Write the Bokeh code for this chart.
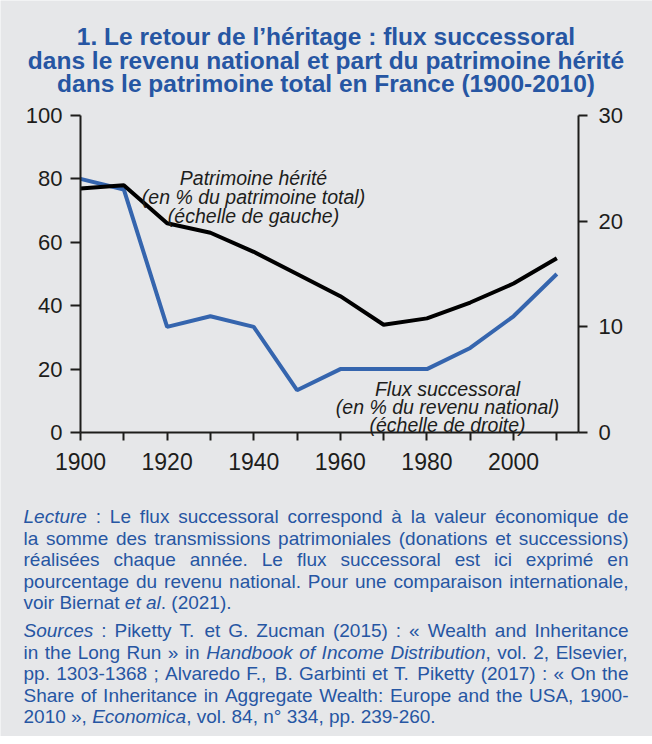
from bokeh.plotting import figure
from bokeh.models import Range1d, LinearAxis, FixedTicker, Label
from bokeh.embed import file_html
from bokeh.resources import INLINE

# ---------------- data ----------------
years = [1900, 1910, 1920, 1930, 1940, 1950, 1960, 1970, 1980, 1990, 2000, 2010]
patrimoine_herite = [77, 78, 66, 63, 57, 50, 43, 34, 36, 41, 47, 55]      # % du patrimoine total (gauche)
flux_successoral = [24, 23, 10, 11, 10, 4, 6, 6, 6, 8, 11, 15]            # % du revenu national (droite)

x_ticks = [1900, 1910, 1920, 1930, 1940, 1950, 1960, 1970, 1980, 1990, 2000, 2010]
x_tick_labels = ["1900", "", "1920", "", "1940", "", "1960", "", "1980", "", "2000", ""]
left_ticks = [0, 20, 40, 60, 80, 100]
right_ticks = [0, 10, 20, 30]

title_lines = [
    "1. Le retour de l\u2019h\u00e9ritage : flux successoral",
    "dans le revenu national et part du patrimoine h\u00e9rit\u00e9",
    "dans le patrimoine total en France (1900-2010)",
]
ann_black = ["Patrimoine h\u00e9rit\u00e9", "(en % du patrimoine total)", "(\u00e9chelle de gauche)"]
ann_blue = ["Flux successoral", "(en % du revenu national)", "(\u00e9chelle de droite)"]

lecture_lines = [
    "*Lecture* : Le flux successoral correspond \u00e0 la valeur \u00e9conomique de",
    "la somme des transmissions patrimoniales (donations et successions)",
    "r\u00e9alis\u00e9es chaque ann\u00e9e. Le flux successoral est ici exprim\u00e9 en",
    "pourcentage du revenu national. Pour une comparaison internationale,",
    "voir Biernat *et al*. (2021).",
]
sources_lines = [
    "*Sources* : Piketty T. et G. Zucman (2015) : \u00ab Wealth and Inheritance",
    "in the Long Run \u00bb in *Handbook of Income Distribution*, vol. 2, Elsevier,",
    "pp. 1303-1368 ; Alvaredo F., B. Garbinti et T. Piketty (2017) : \u00ab On the",
    "Share of Inheritance in Aggregate Wealth: Europe and the USA, 1900-",
    "2010 \u00bb, *Economica*, vol. 84, n\u00b0 334, pp. 239-260.",
]

# ---------------- styling / layout ----------------
BG = "#e6e7e9"
TXT_BLUE = "#2656a3"
LINE_BLUE = "#3565ae"
INK = "#1d1d1b"
FONT = "Liberation Sans"

W_FIG, H_FIG = 652, 736
# chart area in page pixels
FR_L, FR_R, FR_T, FR_B = 80, 578, 115, 432
X0, X1 = 1900, 2015          # x data span of the chart area
Y_MAX_L, Y_MAX_R = 100, 30   # left / right scale maxima

def dx(px):
    return X0 + (px - FR_L) * (X1 - X0) / (FR_R - FR_L)

def dy(py):
    return (FR_B - py) * Y_MAX_L / (FR_B - FR_T)

# the frame covers the whole canvas; axes are pinned to the chart area
p = figure(width=W_FIG, height=H_FIG,
           x_range=Range1d(dx(0), dx(W_FIG)), y_range=Range1d(dy(H_FIG), dy(0)),
           x_axis_type=None, y_axis_type=None,
           output_backend="svg", toolbar_location=None, title=None, min_border=0,
           background_fill_color=BG, border_fill_color=BG, outline_line_color=None)
k = Y_MAX_R / Y_MAX_L
p.extra_y_ranges = {"right": Range1d(dy(H_FIG) * k, dy(0) * k)}

def style_axis(ax, ticks, size, standoff, tick_out):
    ax.ticker = FixedTicker(ticks=ticks)
    ax.axis_line_width = 2
    ax.axis_line_color = INK
    ax.major_tick_line_width = 2
    ax.major_tick_line_color = INK
    ax.major_tick_out = tick_out
    ax.major_tick_in = 0
    ax.minor_tick_line_color = None
    ax.major_label_text_font = FONT
    ax.major_label_text_font_size = size
    ax.major_label_text_color = INK
    ax.major_label_standoff = standoff

xaxis = LinearAxis(fixed_location=0, bounds=(X0, X1))
style_axis(xaxis, x_ticks, "23px", 12, 8)
xaxis.major_label_overrides = {t: s for t, s in zip(x_ticks, x_tick_labels)}
p.add_layout(xaxis, "below")

yaxis = LinearAxis(fixed_location=X0, bounds=(0, Y_MAX_L))
style_axis(yaxis, left_ticks, "22px", 8, 10)
p.add_layout(yaxis, "left")

raxis = LinearAxis(fixed_location=X1, bounds=(0, Y_MAX_R), y_range_name="right")
style_axis(raxis, right_ticks, "22px", 11, 9)
p.add_layout(raxis, "right")

p.line(years, flux_successoral, y_range_name="right", line_color=LINE_BLUE, line_width=4)
p.line(years, patrimoine_herite, line_color="#000000", line_width=4)

def lab(px, py, text, size, color, style="normal", align="left"):
    p.add_layout(Label(x=dx(px), y=dy(py), text=text, text_font=FONT,
                       text_font_size=f"{size}px", text_font_style=style,
                       text_color=color, text_align=align, text_baseline="alphabetic"))

# title
for line, base in zip(title_lines, [36, 59.5, 83]):
    lab(325.5, base, line, 24.5, TXT_BLUE, "bold", "center")

# annotations
for line, base in zip(ann_black, [177, 196, 215]):
    lab(253, base, line, 19.5, INK, "italic", "center")
for line, base in zip(ann_blue, [388.5, 406.5, 424.5]):
    lab(447, base, line, 19.5, INK, "italic", "center")

# ---------------- notes (justified) ----------------
AW = {" ": 278, "!": 278, "%": 889, "(": 333, ")": 333, ",": 278, "-": 333, ".": 278, ":": 278, ";": 278,
      "A": 667, "B": 667, "C": 722, "D": 722, "E": 667, "F": 611, "G": 778, "H": 722, "I": 278, "J": 500,
      "K": 667, "L": 556, "M": 833, "N": 722, "O": 778, "P": 667, "Q": 778, "R": 722, "S": 667, "T": 611,
      "U": 722, "V": 667, "W": 944, "X": 667, "Y": 667, "Z": 611,
      "a": 556, "b": 556, "c": 500, "d": 556, "e": 556, "f": 278, "g": 556, "h": 556, "i": 222, "j": 222,
      "k": 500, "l": 222, "m": 833, "n": 556, "o": 556, "p": 556, "q": 556, "r": 333, "s": 500, "t": 278,
      "u": 556, "v": 500, "w": 722, "x": 500, "y": 500, "z": 500,
      "\u00e9": 556, "\u00e8": 556, "\u00e0": 556, "\u00ab": 556, "\u00bb": 556, "\u00b0": 400}

def tw(s, size):
    return sum(AW.get(ch, 556) for ch in s) * size / 1000.0

def parse(line):
    words = [[]]
    for i, seg in enumerate(line.split("*")):
        italic = (i % 2 == 1)
        for j, part in enumerate(seg.split(" ")):
            if j > 0:
                words.append([])
            if part:
                words[-1].append((part, italic))
    return [w for w in words if w]

BODY = 19
LEFT, RIGHT = 23, 628

def layout_par(lines, baselines):
    for n, (line, base) in enumerate(zip(lines, baselines)):
        words = parse(line)
        widths = [sum(tw(s, BODY) for s, _ in w) for w in words]
        last = (n == len(lines) - 1)
        gap = tw(" ", BODY)
        if not last and len(words) > 1:
            g = (RIGHT - LEFT - sum(widths)) / (len(words) - 1)
            if g > 0.15 * BODY:
                gap = g
        xpos = LEFT
        for w, wd in zip(words, widths):
            xx = xpos
            for s, it in w:
                lab(xx, base, s, BODY, TXT_BLUE, "italic" if it else "normal", "left")
                xx += tw(s, BODY)
            xpos += wd + gap

layout_par(lecture_lines, [516, 537.5, 559, 580.5, 602])
layout_par(sources_lines, [630, 651.5, 673, 694.5, 716])

open("out.html", "w").write(file_html(p, INLINE))
